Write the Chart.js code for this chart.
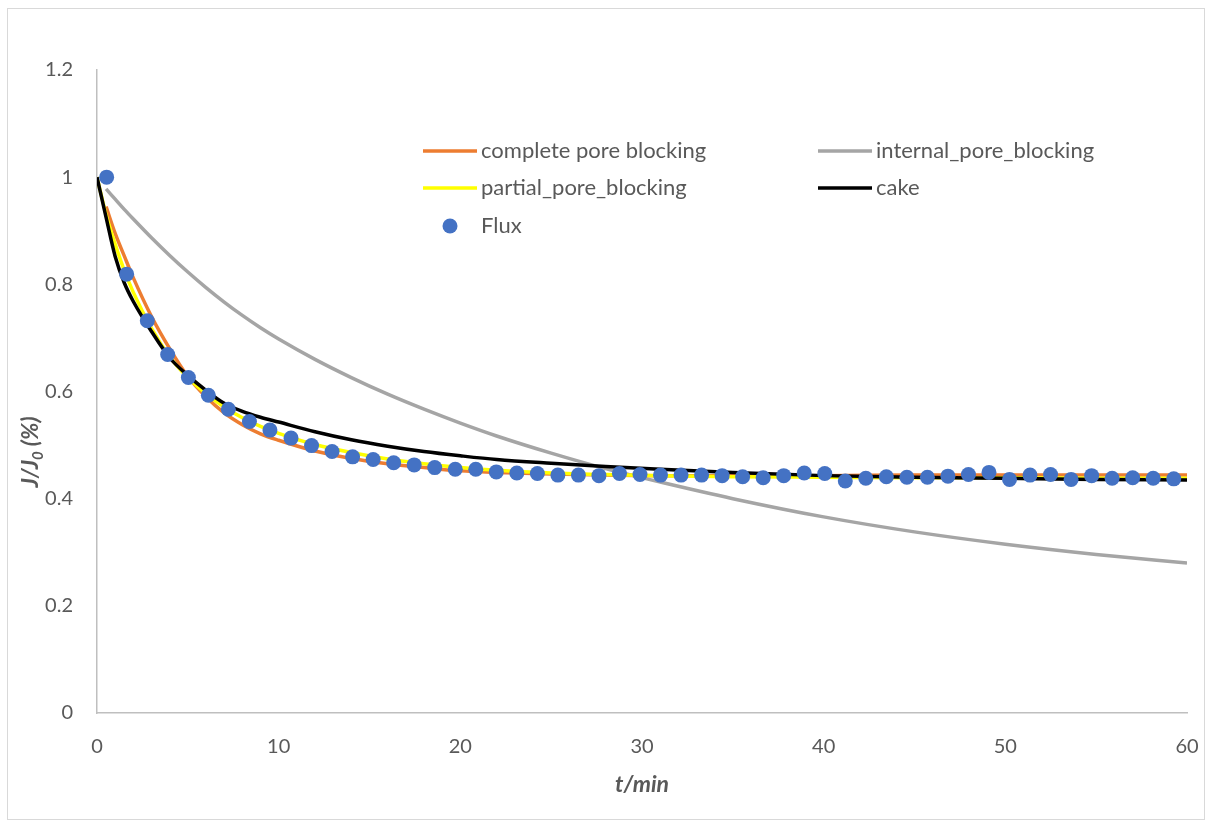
<!DOCTYPE html>
<html>
<head>
<meta charset="utf-8">
<script src="https://cdn.jsdelivr.net/npm/chart.js@4.4.1/dist/chart.umd.min.js"></script>
<style>
	html, body { margin: 0; padding: 0; background: #ffffff; }
	#wrap { width: 1213px; height: 828px; position: relative; }
</style>
</head>
<body>
<div id="wrap"><canvas id="flux-chart" width="1213" height="828"></canvas></div>
<script>
//////////////////////////////////////////
// DATA
//////////////////////////////////////////

// Measured flux (t in min, J/J0)
var fluxTime = [0.53, 1.63, 2.77, 3.89, 5.03, 6.13, 7.23, 8.39, 9.52, 10.68,
	11.81, 12.94, 14.07, 15.2, 16.33, 17.46, 18.59, 19.72, 20.85, 21.98,
	23.11, 24.24, 25.37, 26.5, 27.63, 28.76, 29.89, 31.02, 32.15, 33.28,
	34.41, 35.54, 36.67, 37.8, 38.93, 40.06, 41.19, 42.32, 43.45, 44.58,
	45.71, 46.84, 47.97, 49.1, 50.23, 51.36, 52.49, 53.62, 54.75, 55.88,
	57.01, 58.14, 59.27];
var fluxValue = [1.000, 0.819, 0.732, 0.669, 0.626, 0.593, 0.567, 0.544, 0.528, 0.513,
	0.499, 0.488, 0.478, 0.473, 0.467, 0.463, 0.458, 0.455, 0.455, 0.450,
	0.448, 0.447, 0.444, 0.444, 0.443, 0.447, 0.445, 0.444, 0.444, 0.444,
	0.443, 0.441, 0.439, 0.443, 0.448, 0.447, 0.433, 0.438, 0.441, 0.440,
	0.440, 0.442, 0.445, 0.449, 0.436, 0.444, 0.445, 0.436, 0.443, 0.438,
	0.439, 0.438, 0.437];

// Model curves, read at these times
var modelTime = [0, 0.5, 1, 1.5, 2, 3, 4, 5, 6, 7, 8, 9, 10, 12, 14, 16, 18, 20, 22, 25, 28, 31, 35, 40, 45, 50, 55, 60];
var completeBlocking = [null, 0.945, 0.895, 0.853, 0.812, 0.740, 0.680, 0.628, 0.590, 0.560,
	0.538, 0.521, 0.509, 0.489, 0.475, 0.465, 0.458, 0.452, 0.449, 0.446,
	0.444, 0.443, 0.443, 0.443, 0.444, 0.444, 0.444, 0.444];
var internalBlocking = [null, 0.978, 0.959, 0.940, 0.922, 0.887, 0.854, 0.823, 0.794, 0.767,
	0.742, 0.719, 0.698, 0.660, 0.626, 0.595, 0.567, 0.541, 0.517, 0.485,
	0.456, 0.431, 0.400, 0.366, 0.338, 0.315, 0.296, 0.280];
var partialBlocking = [1.000, 0.930, 0.875, 0.826, 0.785, 0.718, 0.665, 0.626, 0.596, 0.571,
	0.551, 0.535, 0.522, 0.501, 0.486, 0.474, 0.465, 0.458, 0.453, 0.448,
	0.445, 0.443, 0.441, 0.440, 0.439, 0.439, 0.438, 0.438];
var cakeFiltration = [1.000, 0.925, 0.852, 0.803, 0.768, 0.712, 0.663, 0.630, 0.602, 0.578,
	0.563, 0.552, 0.543, 0.525, 0.510, 0.498, 0.488, 0.480, 0.473, 0.466,
	0.460, 0.455, 0.449, 0.443, 0.440, 0.438, 0.436, 0.435];

var xTicks = [0, 10, 20, 30, 40, 50, 60];
var yTicks = [0, 0.2, 0.4, 0.6, 0.8, 1, 1.2];

var seriesLabels = ["complete pore blocking", "internal_pore_blocking", "partial_pore_blocking", "cake", "Flux"];

//////////////////////////////////////////
// HELPERS
//////////////////////////////////////////

var textColor = "#595959";
var fontName = "Lato, 'Liberation Sans', sans-serif";

// Pairs x/y arrays into points, leaving out empty values
function toPoints(xs, ys) {
	var pts = [];
	for (var i = 0; i < xs.length; i++) {
		if (ys[i] !== null) {
			pts.push({ x: xs[i], y: ys[i] });
		}
	}
	return pts;
}

function lineSet(label, values, color, width, order) {
	return {
		label: label,
		data: toPoints(modelTime, values),
		showLine: true,
		borderColor: color,
		backgroundColor: color,
		borderWidth: width,
		pointRadius: 0,
		pointHoverRadius: 0,
		cubicInterpolationMode: "monotone",
		order: order
	};
}

// Background + outer frame
var framePlugin = {
	id: "frame",
	beforeDraw: function(chart) {
		var ctx = chart.ctx;
		ctx.save();
		ctx.fillStyle = "#ffffff";
		ctx.fillRect(0, 0, chart.width, chart.height);
		ctx.strokeStyle = "#d9d9d9";
		ctx.lineWidth = 1;
		ctx.strokeRect(7.5, 8.5, 1197, 811);
		ctx.restore();
	}
};

// Axis titles (y title has a subscript)
var titlePlugin = {
	id: "titles",
	afterDraw: function(chart) {
		var ctx = chart.ctx;
		var area = chart.chartArea;
		ctx.save();
		ctx.fillStyle = textColor;
		ctx.textBaseline = "alphabetic";

		// x title
		ctx.font = "italic bold 23px " + fontName;
		ctx.textAlign = "center";
		ctx.fillText("t/min", (area.left + area.right) / 2, 792);

		// y title, rotated
		var big = "italic bold 23px " + fontName;
		var small = "italic bold 15px " + fontName;
		ctx.font = big;
		var w1 = ctx.measureText("J/J").width;
		var w3 = ctx.measureText(" (%)").width;
		ctx.font = small;
		var w2 = ctx.measureText("0").width;
		var total = w1 + w2 + w3;
		ctx.translate(38, 452);
		ctx.rotate(-Math.PI / 2);
		ctx.textAlign = "left";
		var sx = -total / 2;
		ctx.font = big;
		ctx.fillText("J/J", sx, 0);
		ctx.font = small;
		ctx.fillText("0", sx + w1, 5);
		ctx.font = big;
		ctx.fillText(" (%)", sx + w1 + w2, 0);
		ctx.restore();
	}
};

// Legend laid out like the original: two columns inside the plot
var legendPlugin = {
	id: "innerLegend",
	afterDraw: function(chart) {
		var ctx = chart.ctx;
		var slots = [
			{ ds: 0, x: 423, y: 151 },
			{ ds: 1, x: 818, y: 151 },
			{ ds: 2, x: 423, y: 188 },
			{ ds: 3, x: 818, y: 188 },
			{ ds: 4, x: 423, y: 226 }
		];
		ctx.save();
		ctx.font = "22px " + fontName;
		ctx.textBaseline = "middle";
		ctx.textAlign = "left";
		for (var i = 0; i < slots.length; i++) {
			var s = slots[i];
			var ds = chart.data.datasets[s.ds];
			if (ds.showLine) {
				ctx.strokeStyle = ds.borderColor;
				ctx.lineWidth = 3.5;
				ctx.beginPath();
				ctx.moveTo(s.x, s.y);
				ctx.lineTo(s.x + 54, s.y);
				ctx.stroke();
			} else {
				ctx.fillStyle = ds.backgroundColor;
				ctx.beginPath();
				ctx.arc(s.x + 27, s.y, 7.5, 0, Math.PI * 2);
				ctx.fill();
			}
			ctx.fillStyle = textColor;
			ctx.fillText(ds.label, s.x + 58, s.y);
		}
		ctx.restore();
	}
};

//////////////////////////////////////////
// CHART
//////////////////////////////////////////

window.addEventListener("load", function() {
	var flux_ctx = document.getElementById("flux-chart");

	var datasets = [
		lineSet(seriesLabels[0], completeBlocking, "#ED7D31", 3.5, 4),
		lineSet(seriesLabels[1], internalBlocking, "#A5A5A5", 3.5, 5),
		lineSet(seriesLabels[2], partialBlocking, "#FFFF00", 3.5, 3),
		lineSet(seriesLabels[3], cakeFiltration, "#000000", 3.5, 2),
		{
			label: seriesLabels[4],
			data: toPoints(fluxTime, fluxValue),
			showLine: false,
			backgroundColor: "#4472C4",
			borderColor: "#4472C4",
			borderWidth: 0,
			pointRadius: 7.5,
			pointHoverRadius: 7.5,
			order: 1
		}
	];

	var flux_chart = new Chart(flux_ctx, {
		type: "scatter",
		data: { datasets: datasets },
		plugins: [framePlugin, titlePlugin, legendPlugin],
		options: {
			responsive: false,
			animation: false,
			events: [],
			layout: { padding: { left: 0, top: 70, right: 26, bottom: 0 } },
			plugins: {
				legend: { display: false },
				tooltip: { enabled: false }
			},
			scales: {
				x: {
					type: "linear",
					min: 0,
					max: 60,
					afterFit: function(scale) {
						scale.height = 115;
						// keep the plot edge where the original has it
						scale.paddingLeft = 0;
						scale.paddingRight = 0;
					},
					afterBuildTicks: function(scale) {
						scale.ticks = xTicks.map(function(v) { return { value: v }; });
					},
					grid: { display: false, drawTicks: false },
					border: { display: true, color: "#bfbfbf", width: 1.5 },
					ticks: {
						color: textColor,
						font: { family: fontName, size: 20 },
						padding: 22,
						maxRotation: 0
					}
				},
				y: {
					type: "linear",
					min: 0,
					max: 1.2,
					afterFit: function(scale) { scale.width = 97; },
					afterBuildTicks: function(scale) {
						scale.ticks = yTicks.map(function(v) { return { value: v }; });
					},
					grid: { display: false, drawTicks: false },
					border: { display: true, color: "#bfbfbf", width: 1.5 },
					ticks: {
						color: textColor,
						font: { family: fontName, size: 20 },
						padding: 24,
						callback: function(v) { return String(Math.round(v * 10) / 10); }
					}
				}
			}
		}
	});
});
</script>
</body>
</html>
